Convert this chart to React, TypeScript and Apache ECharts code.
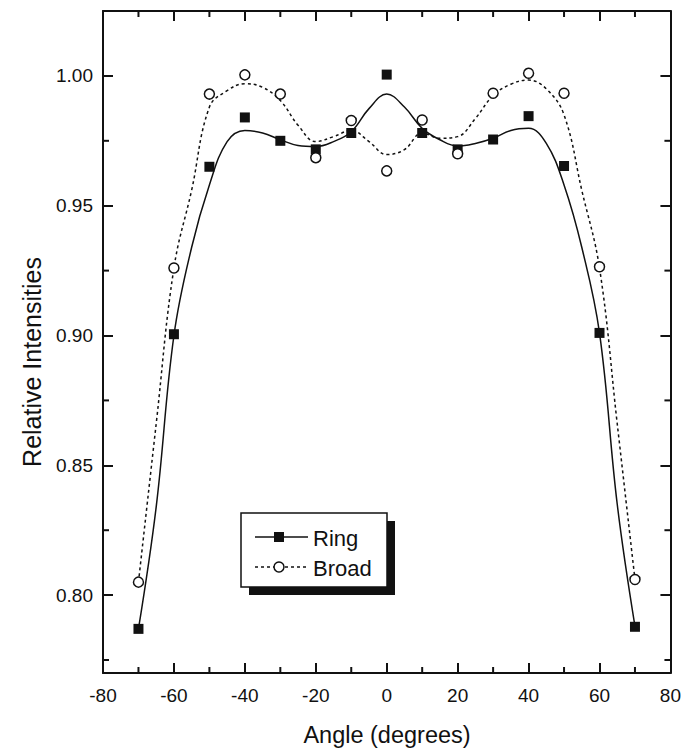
import React, { useEffect, useRef } from "react";
import * as echarts from "echarts";

// Measured data points
const angles = [-70, -60, -50, -40, -30, -20, -10, 0, 10, 20, 30, 40, 50, 60, 70];
const ringValues = [0.787, 0.9005, 0.965, 0.984, 0.975, 0.9717, 0.978, 1.0005, 0.978, 0.9717, 0.9755, 0.9845, 0.9653, 0.901, 0.7878];
const broadValues = [0.805, 0.926, 0.993, 1.0004, 0.993, 0.9685, 0.9828, 0.9634, 0.983, 0.97, 0.9933, 1.001, 0.9933, 0.9265, 0.806];

// Fitted curves, every 5 degrees
const fitAngles = [-70, -65, -60, -55, -50, -45, -40, -35, -30, -25, -20, -15, -10, -5, 0, 5, 10, 15, 20, 25, 30, 35, 40, 45, 50, 55, 60, 65, 70];
const ringFit = [0.787, 0.834, 0.9, 0.934, 0.958, 0.9747, 0.979, 0.978, 0.9754, 0.9732, 0.9728, 0.9747, 0.9785, 0.9874, 0.993, 0.988, 0.9798, 0.9754, 0.973, 0.974, 0.976, 0.979, 0.9798, 0.974, 0.958, 0.934, 0.901, 0.835, 0.788];
const broadFit = [0.805, 0.866, 0.926, 0.956, 0.988, 0.9943, 0.997, 0.9956, 0.9905, 0.981, 0.9747, 0.9766, 0.979, 0.9747, 0.9697, 0.9716, 0.978, 0.976, 0.9766, 0.9836, 0.9924, 0.9968, 0.9984, 0.995, 0.985, 0.956, 0.926, 0.866, 0.806];

// Axis ranges and ticks
const xRange = [-80, 80];
const yRange = [0.77, 1.025];
const yMajorTicks = [0.8, 0.85, 0.9, 0.95, 1.0];
const yMinorTicks = [0.775, 0.825, 0.875, 0.925, 0.975];
const xMinorTicks = [-70, -50, -30, -10, 10, 30, 50, 70];
const seriesNames = ["Ring", "Broad"];

const FONT = "'Liberation Sans', Arial, sans-serif";
const INK = "#111";
const MINOR_LEN = 6;

export default function App() {
  const ref = useRef<HTMLDivElement>(null);

  useEffect(() => {
    if (!ref.current) return;
    const chart = echarts.init(ref.current, null, { renderer: "svg" });

    const tickStyle = { color: INK, width: 2 };

    const yBase = {
      type: "value" as const,
      min: yRange[0],
      max: yRange[1],
      splitLine: { show: false },
    };

    const xBase = {
      type: "value" as const,
      min: xRange[0],
      max: xRange[1],
      interval: 20,
      splitLine: { show: false },
    };

    const majorX = (position: string, showLabel: boolean) => ({
      ...xBase,
      position,
      axisLine: { show: true, onZero: false, lineStyle: { color: INK, width: 2 } },
      axisTick: { show: true, inside: true, length: 10, lineStyle: tickStyle },
      axisLabel: showLabel
        ? { show: true, fontSize: 19, color: INK, fontFamily: FONT, margin: 13, formatter: (v: number) => String(v) }
        : { show: false },
    });

    const majorY = (position: string, showLabel: boolean) => ({
      ...yBase,
      position,
      axisLine: { show: true, onZero: false, lineStyle: { color: INK, width: 2 } },
      axisTick: { show: true, inside: true, length: 10, customValues: yMajorTicks, lineStyle: tickStyle },
      axisLabel: showLabel
        ? { show: true, customValues: yMajorTicks, fontSize: 19, color: INK, fontFamily: FONT, margin: 10, formatter: (v: number) => v.toFixed(2) }
        : { show: false, customValues: yMajorTicks },
    });

    const baseGraphic: any[] = [
      {
        type: "text",
        x: 32,
        y: 362,
        rotation: Math.PI / 2,
        style: {
          text: "Relative Intensities",
          fill: INK,
          font: `25px ${FONT}`,
          textAlign: "center",
          textVerticalAlign: "middle",
        },
      },
      {
        type: "text",
        x: 387,
        y: 735,
        style: {
          text: "Angle (degrees)",
          fill: INK,
          font: `23.5px ${FONT}`,
          textAlign: "center",
          textVerticalAlign: "middle",
        },
      },
      {
        type: "group",
        children: [
          { type: "rect", shape: { x: 249, y: 521, width: 146, height: 74 }, style: { fill: INK } },
          { type: "rect", shape: { x: 241, y: 513, width: 146, height: 74 }, style: { fill: "#fff", stroke: INK, lineWidth: 1.5 } },
          { type: "line", shape: { x1: 255, y1: 537, x2: 308, y2: 537 }, style: { stroke: INK, lineWidth: 1.5 } },
          { type: "rect", shape: { x: 274, y: 532, width: 10, height: 10 }, style: { fill: INK } },
          {
            type: "text",
            x: 313,
            y: 538,
            style: { text: seriesNames[0], fill: INK, font: `22px ${FONT}`, textAlign: "left", textVerticalAlign: "middle" },
          },
          { type: "line", shape: { x1: 255, y1: 567, x2: 308, y2: 567 }, style: { stroke: INK, lineWidth: 1.5, lineDash: [3, 3] } },
          { type: "circle", shape: { cx: 279, cy: 567, r: 5 }, style: { fill: "#fff", stroke: INK, lineWidth: 1.5 } },
          {
            type: "text",
            x: 313,
            y: 568,
            style: { text: seriesNames[1], fill: INK, font: `22px ${FONT}`, textAlign: "left", textVerticalAlign: "middle" },
          },
        ],
      },
    ];

    const option: any = {
      animation: false,
      backgroundColor: "#fff",
      grid: { left: 103, right: 13, top: 11, bottom: 76 },
      xAxis: [majorX("bottom", true), majorX("top", false)],
      yAxis: [majorY("left", true), majorY("right", false)],
      series: [
        {
          name: seriesNames[0] + " fit",
          type: "line",
          data: fitAngles.map((a, i) => [a, ringFit[i]]),
          smooth: 0.4,
          showSymbol: false,
          lineStyle: { color: INK, width: 1.5, type: "solid" },
          z: 2,
        },
        {
          name: seriesNames[1] + " fit",
          type: "line",
          data: fitAngles.map((a, i) => [a, broadFit[i]]),
          smooth: 0.4,
          showSymbol: false,
          lineStyle: { color: INK, width: 1.5, type: [3, 3] },
          z: 2,
        },
        {
          name: seriesNames[0],
          type: "scatter",
          data: angles.map((a, i) => [a, ringValues[i]]),
          symbol: "rect",
          symbolSize: 10,
          itemStyle: { color: INK, opacity: 1 },
          z: 4,
        },
        {
          name: seriesNames[1],
          type: "scatter",
          data: angles.map((a, i) => [a, broadValues[i]]),
          symbol: "circle",
          symbolSize: 10,
          itemStyle: { color: "#fff", borderColor: INK, borderWidth: 1.5, opacity: 1 },
          z: 5,
        },
      ],
      graphic: baseGraphic,
    };

    chart.setOption(option);

    // Minor ticks, positioned through the chart's own scales
    const tickEls: any[] = [];
    const tickLine = (x1: number, y1: number, x2: number, y2: number) => ({
      type: "line",
      z: 100,
      silent: true,
      shape: { x1, y1, x2, y2 },
      style: { stroke: INK, lineWidth: 2 },
    });
    yMinorTicks.forEach((v) => {
      const l = chart.convertToPixel({ gridIndex: 0 }, [xRange[0], v]) as number[];
      const r = chart.convertToPixel({ gridIndex: 0 }, [xRange[1], v]) as number[];
      if (l && r) {
        tickEls.push(tickLine(l[0], l[1], l[0] + MINOR_LEN, l[1]));
        tickEls.push(tickLine(r[0] - MINOR_LEN, r[1], r[0], r[1]));
      }
    });
    xMinorTicks.forEach((v) => {
      const b = chart.convertToPixel({ gridIndex: 0 }, [v, yRange[0]]) as number[];
      const t = chart.convertToPixel({ gridIndex: 0 }, [v, yRange[1]]) as number[];
      if (b && t) {
        tickEls.push(tickLine(b[0], b[1], b[0], b[1] - MINOR_LEN));
        tickEls.push(tickLine(t[0], t[1], t[0], t[1] + MINOR_LEN));
      }
    });
    chart.setOption({ graphic: [...baseGraphic, ...tickEls] });

    return () => chart.dispose();
  }, []);

  return (
    <div
      ref={ref}
      style={{ position: "fixed", left: 0, top: 0, width: 684, height: 749, background: "#fff" }}
    />
  );
}
